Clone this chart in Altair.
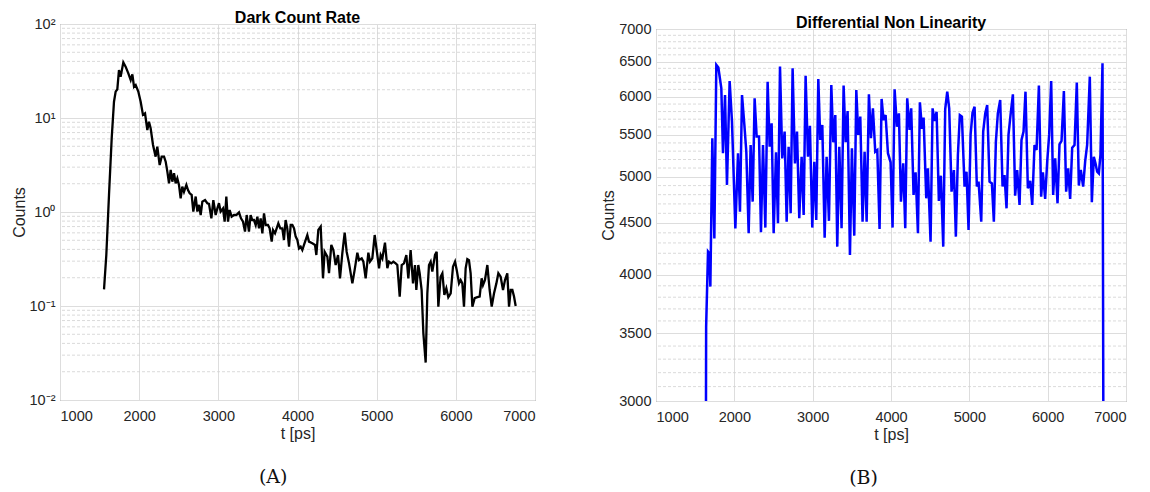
import altair as alt
import pandas as pd

# ---------------- Dark Count Rate (panel A) ----------------
dcr_t = [1556, 1585, 1619, 1653, 1682, 1703, 1724, 1745, 1766, 1800, 1829, 1863, 1893, 1914, 1935, 1956,
         1989, 2019, 2048, 2074, 2103, 2124, 2145, 2175, 2208, 2229, 2259, 2284, 2314, 2335, 2356, 2377,
         2398, 2419, 2440, 2461, 2482, 2503, 2524, 2545, 2566, 2596, 2617, 2638, 2663, 2684, 2714, 2735,
         2756, 2777, 2798, 2832, 2861, 2882, 2912, 2937, 2966, 2987, 3008, 3029, 3059, 3080, 3101, 3122,
         3143, 3168, 3198, 3227, 3261, 3286, 3312, 3337, 3358, 3387, 3408, 3429, 3450, 3472, 3493, 3514,
         3535, 3556, 3577, 3598, 3627, 3648, 3674, 3691, 3716, 3737, 3758, 3783, 3808, 3829, 3850, 3871,
         3893, 3914, 3935, 3956, 3977, 3998, 4019, 4040, 4061, 4082, 4124, 4145, 4187, 4221, 4238, 4263,
         4293, 4322, 4343, 4377, 4398, 4427, 4453, 4482, 4512, 4537, 4566, 4596, 4621, 4651, 4693, 4722,
         4756, 4777, 4811, 4832, 4861, 4895, 4916, 4945, 4975, 5000, 5030, 5051, 5072, 5105, 5135, 5156,
         5185, 5211, 5240, 5261, 5291, 5316, 5345, 5375, 5400, 5429, 5459, 5484, 5501, 5526, 5543, 5568,
         5590, 5619, 5640, 5661, 5682, 5703, 5737, 5758, 5779, 5808, 5830, 5855, 5880, 5905, 5935, 5964,
         5990, 6011, 6040, 6061, 6082, 6103, 6124, 6145, 6166, 6187, 6209, 6238, 6272, 6301, 6326, 6343,
         6368, 6398, 6427, 6453, 6482, 6512, 6537, 6566, 6596, 6621, 6650, 6672, 6693, 6714, 6735, 6756]
dcr_counts = [0.150, 0.349, 1.52, 6.08, 14.9, 19.1, 20.2, 32.4, 27.5, 39.1, 35.2, 29.9, 25.4, 29.1, 21.5, 22.4,
              19.1, 14.9, 10.8, 11.2, 7.45, 9.14, 7.77, 5.16, 3.88, 4.96, 3.16, 3.88, 3.88, 3.43, 2.69, 2.02,
              2.80, 2.10, 2.58, 2.02, 2.28, 1.94, 1.40, 1.86, 1.64, 1.94, 1.71, 1.58, 1.52, 1.01, 1.46, 1.01,
              1.19, 0.929, 1.29, 1.34, 1.24, 1.22, 0.856, 1.34, 0.929, 1.09, 1.24, 1.01, 1.09, 0.789, 1.46, 0.789,
              1.05, 0.892, 0.929, 0.929, 0.992, 0.856, 0.789, 0.618, 0.929, 0.618, 0.929, 0.822, 0.822, 0.727, 0.892, 0.670,
              0.856, 0.593, 0.968, 0.727, 0.727, 0.670, 0.484, 0.643, 0.593, 0.670, 0.758, 0.670, 0.670, 0.504, 0.822, 0.670,
              0.428, 0.727, 0.727, 0.670, 0.547, 0.504, 0.411, 0.428, 0.394, 0.446, 0.569, 0.484, 0.464, 0.446, 0.349, 0.643,
              0.698, 0.197, 0.378, 0.335, 0.223, 0.446, 0.394, 0.273, 0.349, 0.197, 0.363, 0.603, 0.378, 0.284, 0.174, 0.242,
              0.369, 0.308, 0.321, 0.296, 0.197, 0.369, 0.296, 0.321, 0.569, 0.394, 0.252, 0.349, 0.321, 0.472, 0.252, 0.296,
              0.284, 0.296, 0.284, 0.273, 0.126, 0.273, 0.284, 0.349, 0.197, 0.394, 0.174, 0.273, 0.148, 0.273, 0.223, 0.148,
              0.0512, 0.0250, 0.136, 0.273, 0.296, 0.232, 0.349, 0.378, 0.0984, 0.205, 0.223, 0.131, 0.154, 0.124, 0.136, 0.262,
              0.296, 0.242, 0.174, 0.189, 0.174, 0.0984, 0.252, 0.316, 0.308, 0.223, 0.0984, 0.121, 0.124, 0.126, 0.197, 0.167,
              0.189, 0.273, 0.148, 0.0984, 0.136, 0.174, 0.223, 0.205, 0.148, 0.189, 0.223, 0.0984, 0.148, 0.148, 0.126, 0.100]

# ---------------- Differential Non Linearity (panel B) ----------------
dnl_t = [1625, 1640, 1664, 1680, 1694, 1719, 1745, 1770, 1796, 1834, 1855, 1881, 1906, 1940, 1970, 2013,
         2047, 2072, 2098, 2128, 2153, 2183, 2208, 2234, 2259, 2285, 2315, 2340, 2366, 2396, 2425, 2451,
         2476, 2502, 2532, 2557, 2583, 2612, 2642, 2668, 2693, 2719, 2744, 2774, 2800, 2829, 2859, 2885,
         2910, 2940, 2965, 2995, 3021, 3046, 3072, 3097, 3123, 3153, 3178, 3208, 3238, 3263, 3289, 3314,
         3340, 3369, 3395, 3421, 3446, 3476, 3501, 3531, 3557, 3582, 3608, 3637, 3663, 3689, 3718, 3744,
         3769, 3799, 3825, 3854, 3880, 3905, 3931, 3961, 3995, 4020, 4046, 4076, 4101, 4127, 4156, 4182,
         4207, 4237, 4258, 4288, 4314, 4344, 4369, 4395, 4416, 4450, 4471, 4505, 4531, 4556, 4582, 4611,
         4637, 4667, 4692, 4718, 4743, 4773, 4803, 4828, 4854, 4879, 4905, 4939, 4964, 4990, 5016, 5041,
         5067, 5096, 5118, 5152, 5177, 5203, 5228, 5258, 5288, 5313, 5339, 5364, 5394, 5424, 5449, 5475,
         5500, 5526, 5556, 5585, 5611, 5641, 5666, 5692, 5717, 5747, 5777, 5803, 5832, 5858, 5888, 5917,
         5939, 5968, 5994, 6019, 6045, 6070, 6096, 6126, 6151, 6177, 6207, 6236, 6262, 6287, 6313, 6343,
         6372, 6398, 6423, 6453, 6479, 6504, 6538, 6564, 6589, 6611, 6632, 6653, 6674, 6700, 6725]
dnl_counts = [1000, 3550, 4216, 4200, 3893, 5458, 4345, 6450, 6411, 6115, 5275, 6023, 4908, 6218, 5668, 4445,
              5275, 4617, 6023, 5626, 5293, 4396, 5375, 4724, 5977, 5479, 5479, 4406, 5375, 4453, 6208, 5354,
              5646, 4396, 5285, 4497, 6425, 5213, 5541, 4514, 5354, 4601, 6400, 5154, 5541, 4549, 5233, 4583,
              6294, 5233, 5616, 4453, 5174, 4532, 6247, 5437, 5626, 4352, 5233, 4522, 6162, 5408, 5754, 4264,
              5354, 4446, 6153, 5408, 5807, 4183, 5334, 4372, 6092, 5500, 5734, 4514, 5293, 4514, 6032, 5458,
              5843, 5293, 5313, 4439, 5969, 5689, 5754, 5275, 5167, 4453, 6101, 5603, 5776, 4724, 5154, 4446,
              5977, 5562, 5843, 4797, 5050, 4396, 5923, 5575, 5721, 4760, 5096, 4313, 5843, 5676, 5798, 4731,
              5012, 4264, 5833, 6069, 5843, 4833, 5077, 4362, 5254, 5754, 5734, 4889, 5057, 4429, 5500, 5789,
              5864, 4889, 4944, 4514, 5541, 5776, 5887, 4944, 4925, 4514, 5416, 5776, 5955, 4889, 5019, 4653,
              5500, 5754, 6032, 4789, 5077, 4688, 5437, 5541, 6069, 4870, 4952, 4688, 5375, 5313, 6153, 4778,
              5050, 4753, 5174, 5500, 6218, 4797, 5213, 4706, 5383, 5424, 6078, 4833, 5096, 4753, 5342, 5375,
              6198, 4900, 5077, 4889, 5182, 5375, 6280, 4717, 5233, 5154, 5057, 5038, 5254, 6474, 1000]

x_ticks = [1000, 2000, 3000, 4000, 5000, 6000, 7000]
dcr_major = [0.01, 0.1, 1, 10, 100]
dcr_minor = [k * 10.0 ** e for e in range(-2, 2) for k in range(2, 10)]
dnl_major = [3000, 3500, 4000, 4500, 5000, 5500, 6000, 6500, 7000]
dnl_minor = [v for v in range(3100, 7000, 100) if v % 500 != 0]

assert len(dcr_t) == len(dcr_counts), (len(dcr_t), len(dcr_counts))
assert len(dnl_t) == len(dnl_counts), (len(dnl_t), len(dnl_counts))

FONT = "Liberation Sans"
GRID_MAJOR = "#dddddd"
GRID_MINOR = "#d0d0d0"
TXT = "#262626"


def panel(t, counts, major, minor, domain, color, sw, title, w, h, label_expr=None, fmt=None):
    df = pd.DataFrame({"t": t, "counts": counts})
    yscale = alt.Scale(type="log", domain=domain, nice=False)
    ax_kw = dict(values=major, title="Counts", grid=True, gridColor=GRID_MAJOR, gridWidth=1,
                 ticks=False, tickSize=0, domain=False, labelPadding=5, titlePadding=2)
    if label_expr:
        ax_kw["labelExpr"] = label_expr
    if fmt:
        ax_kw["format"] = fmt
    yaxis = alt.Axis(**ax_kw)
    xenc = alt.X("t:Q", scale=alt.Scale(domain=[1000, 7000], nice=False),
                 axis=alt.Axis(values=x_ticks, format="d", title="t [ps]", grid=True, gridColor=GRID_MAJOR,
                               ticks=False, tickSize=0, domain=False, labelPadding=9, titlePadding=3))
    rules = alt.Chart(pd.DataFrame({"v": minor})).mark_rule(
        color=GRID_MINOR, strokeDash=[3, 2], strokeWidth=0.8
    ).encode(y=alt.Y("v:Q", scale=yscale, axis=yaxis))
    line = alt.Chart(df).mark_line(color=color, strokeWidth=sw, clip=True).encode(
        x=xenc, y=alt.Y("counts:Q", scale=yscale, axis=yaxis)
    )
    return alt.layer(rules, line).properties(
        width=w, height=h,
        title=alt.TitleParams(title, anchor="middle", frame="group", offset=-10),
    )


def spacer(h):
    return alt.Chart(pd.DataFrame({"s": [0]})).mark_point(size=0, opacity=0).encode(
        x=alt.value(0), y=alt.value(0)
    ).properties(width=10, height=h, view=alt.ViewBackground(stroke=None))


sup_expr = ("datum.value < 0.05 ? '10\u207b\u00b2' : datum.value < 0.5 ? '10\u207b\u00b9' : "
            "datum.value < 5 ? '10\u2070' : datum.value < 50 ? '10\u00b9' : '10\u00b2'")

left = panel(dcr_t, dcr_counts, dcr_major, dcr_minor, [0.01, 100], "#000000", 2.3,
             "Dark Count Rate", 475, 376, label_expr=sup_expr)
right = panel(dnl_t, dnl_counts, dnl_major, dnl_minor, [3000, 7000], "#0000ff", 2.5,
              "Differential Non Linearity", 470, 372, fmt="d")

cap = dict(orient="bottom", anchor="middle", font="DejaVu Serif", fontSize=19,
           fontWeight="normal", color="#111111", offset=26)
left_w = alt.vconcat(spacer(1), left, spacing=0, title=alt.TitleParams("(A)", **cap))
right_w = alt.vconcat(spacer(6), right, spacing=0, title=alt.TitleParams("(B)", **cap))

chart = (
    alt.hconcat(left_w, right_w, spacing=64)
    .properties(padding={"left": 2, "top": 0, "right": 5, "bottom": 0})
    .configure_view(stroke="#6e6e6e", strokeWidth=1)
    .configure_axis(labelFont=FONT, titleFont=FONT, labelFontSize=14.5, titleFontSize=16,
                    labelColor=TXT, titleColor=TXT, titleFontWeight="normal")
    .configure_title(font=FONT, fontSize=16, fontWeight="bold", color="#000000")
)

chart.save("out.html", embed_options={"renderer": "svg", "actions": False})
